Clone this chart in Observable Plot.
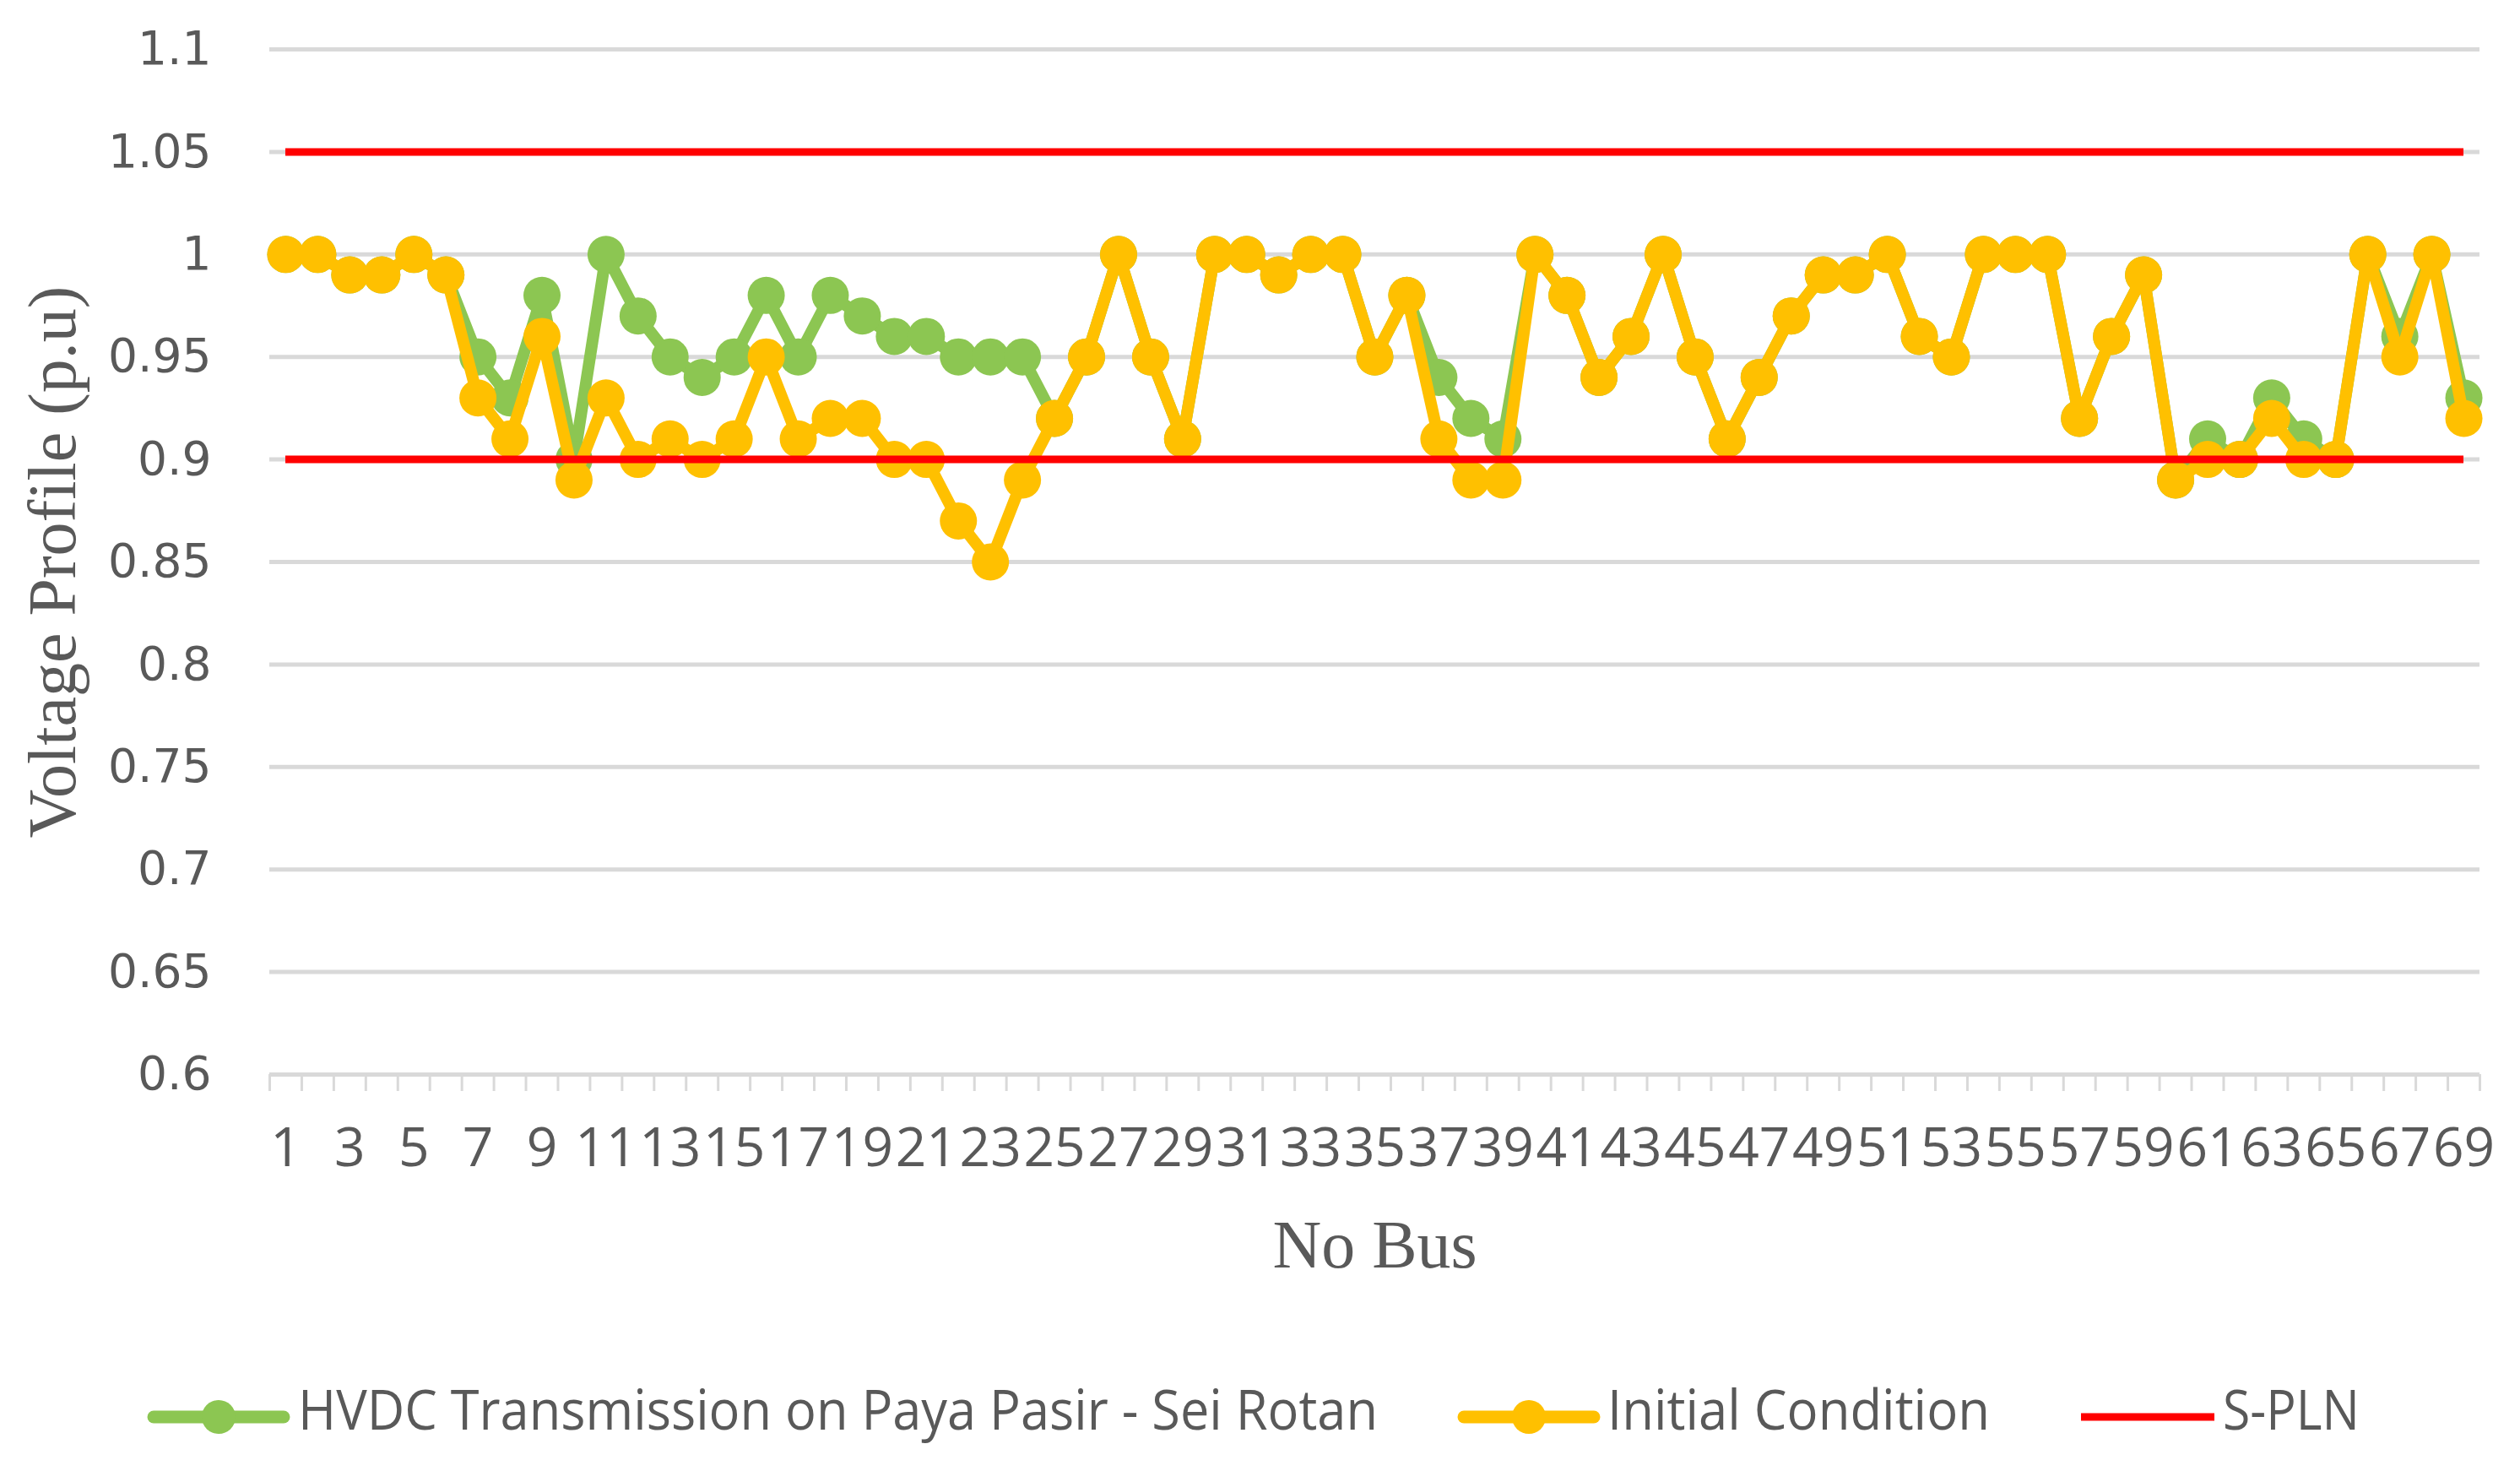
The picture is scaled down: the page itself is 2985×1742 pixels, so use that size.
<!DOCTYPE html>
<html><head><meta charset="utf-8">
<script src="https://cdn.jsdelivr.net/npm/d3@7"></script>
<script src="https://cdn.jsdelivr.net/npm/@observablehq/plot@0.6"></script>
<style>body{margin:0;background:#fff;} #chart{width:2985px;height:1742px;overflow:hidden;} svg{display:block;}</style>
</head><body><div id="chart"></div>
<script>
// ---- data ----
const buses = [1,2,3,4,5,6,7,8,9,10,11,12,13,14,15,16,17,18,19,20,21,22,23,24,25,26,27,28,29,30,31,32,33,34,35,36,37,38,39,40,41,42,43,44,45,46,47,48,49,50,51,52,53,54,55,56,57,58,59,60,61,62,63,64,65,66,67,68,69];
const hvdc = [1.00,1.00,0.99,0.99,1.00,0.99,0.95,0.93,0.98,0.90,
              1.00,0.97,0.95,0.94,0.95,0.98,0.95,0.98,0.97,0.96,
              0.96,0.95,0.95,0.95,0.92,0.95,1.00,0.95,0.91,1.00,
              1.00,0.99,1.00,1.00,0.95,0.98,0.94,0.92,0.91,1.00,
              0.98,0.94,0.96,1.00,0.95,0.91,0.94,0.97,0.99,0.99,
              1.00,0.96,0.95,1.00,1.00,1.00,0.92,0.96,0.99,0.89,
              0.91,0.90,0.93,0.91,0.90,1.00,0.96,1.00,0.93];
const initial = [1.00,1.00,0.99,0.99,1.00,0.99,0.93,0.91,0.96,0.89,
                 0.93,0.90,0.91,0.90,0.91,0.95,0.91,0.92,0.92,0.90,
                 0.90,0.87,0.85,0.89,0.92,0.95,1.00,0.95,0.91,1.00,
                 1.00,0.99,1.00,1.00,0.95,0.98,0.91,0.89,0.89,1.00,
                 0.98,0.94,0.96,1.00,0.95,0.91,0.94,0.97,0.99,0.99,
                 1.00,0.96,0.95,1.00,1.00,1.00,0.92,0.96,0.99,0.89,
                 0.90,0.90,0.92,0.90,0.90,1.00,0.95,1.00,0.92];
const splnLimits = [1.05, 0.9];
const yTicks = [0.6,0.65,0.7,0.75,0.8,0.85,0.9,0.95,1,1.05,1.1];
const yTickLabels = ["0.6","0.65","0.7","0.75","0.8","0.85","0.9","0.95","1","1.05","1.1"];
const xTickLabels = buses.filter(b => b % 2 === 1);
const seriesNames = ["HVDC Transmission on Paya Pasir - Sei Rotan", "Initial Condition", "S-PLN"];
const xTitle = "No Bus";
const yTitle = "Voltage Profile (p.u)";

// ---- styles ----
const GREEN = "#8cc652", ORANGE = "#ffc000", RED = "#ff0000", GRID = "#d9d9d9", TXT = "#595959";
const W = 2985, H = 1560;
const boundaries = buses.map(b => b - 0.5).concat([buses[buses.length - 1] + 0.5]);

const hvdcData = buses.map((b, i) => ({bus: b, v: hvdc[i]}));
const initData = buses.map((b, i) => ({bus: b, v: initial[i]}));

const plot = Plot.plot({
  width: W, height: H,
  marginLeft: 319, marginRight: 48, marginTop: 58, marginBottom: H - 1272,
  style: {background: "#fff", overflow: "visible"},
  x: {type: "linear", domain: [0.5, 69.5], axis: null},
  y: {type: "linear", domain: [0.6, 1.1], axis: null},
  marks: [
    Plot.ruleY(yTicks.filter(t => t !== 0.6), {stroke: GRID, strokeWidth: 5}),
    Plot.ruleY([0.6], {stroke: GRID, strokeWidth: 5}),
    Plot.axisX(boundaries, {tickSize: 20, stroke: GRID, strokeWidth: 3, tickFormat: () => "", label: null}),
    Plot.axisX(xTickLabels, {tickSize: 0, tickPadding: 63, fontSize: 64, fontFamily: "Open Sans", fill: TXT, label: null, tickFormat: d => String(d)}),
    Plot.axisY(yTicks, {tickSize: 0, tickPadding: 69, fontSize: 55, fontFamily: "DejaVu Sans", fill: TXT, label: null, tickFormat: d => yTickLabels[yTicks.indexOf(d)]}),
    Plot.line(hvdcData, {x: "bus", y: "v", stroke: GREEN, strokeWidth: 14, strokeLinejoin: "round", strokeLinecap: "round"}),
    Plot.dot(hvdcData, {x: "bus", y: "v", r: 22, fill: GREEN, stroke: null}),
    Plot.line(initData, {x: "bus", y: "v", stroke: ORANGE, strokeWidth: 14, strokeLinejoin: "round", strokeLinecap: "round"}),
    Plot.dot(initData, {x: "bus", y: "v", r: 22, fill: ORANGE, stroke: null}),
    Plot.ruleY(splnLimits, {x1: buses[0], x2: buses[buses.length - 1], stroke: RED, strokeWidth: 9}),
    Plot.text([yTitle], {text: d => d, frameAnchor: "left", dx: -256, rotate: -90, fontSize: 80, fontFamily: "Liberation Serif", fill: TXT, textAnchor: "middle"}),
    Plot.text([xTitle], {text: d => d, frameAnchor: "bottom", dy: 228, fontSize: 80, fontFamily: "Liberation Serif", fill: TXT, textAnchor: "middle"})
  ]
});
document.getElementById("chart").appendChild(plot);

// ---- legend (below the plot) ----
const LH = 1742 - H;
const legend = d3.select("#chart").append("svg").attr("width", W).attr("height", LH);
const items = [
  {name: seriesNames[0], color: GREEN, x0: 182, x1: 336, tx: 353, len: 1279, dot: true, sw: 15},
  {name: seriesNames[1], color: ORANGE, x0: 1734, x1: 1888, tx: 1904, len: 453, dot: true, sw: 15},
  {name: seriesNames[2], color: RED, x0: 2465, x1: 2623, tx: 2633, len: 162, dot: false, sw: 9}
];
const cy = 118;
items.forEach(it => {
  legend.append("line").attr("x1", it.x0).attr("x2", it.x1).attr("y1", cy).attr("y2", cy)
    .attr("stroke", it.color).attr("stroke-width", it.sw).attr("stroke-linecap", it.dot ? "round" : "butt");
  if (it.dot) legend.append("circle").attr("cx", (it.x0 + it.x1) / 2).attr("cy", cy).attr("r", 20).attr("fill", it.color);
  legend.append("text").attr("x", it.tx).attr("y", 133).attr("font-family", "Open Sans").attr("font-size", 66)
    .attr("textLength", it.len).attr("lengthAdjust", "spacingAndGlyphs")
    .attr("fill", TXT).text(it.name);
});
</script>
</body></html>
